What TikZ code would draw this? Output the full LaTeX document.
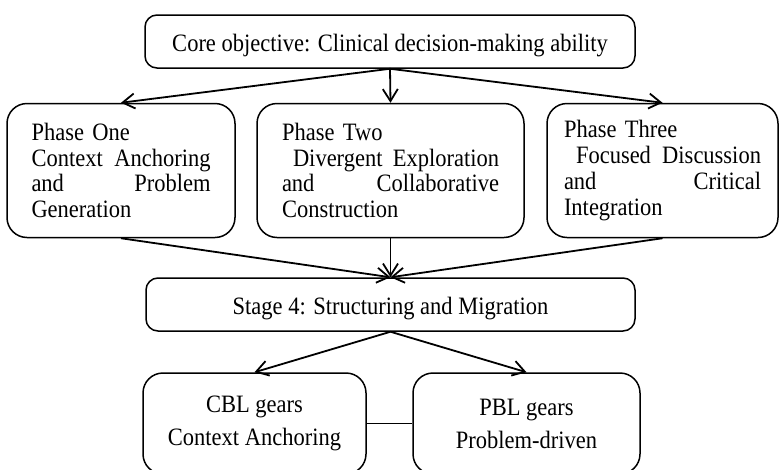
\documentclass[tikz,border=0pt]{standalone}
\usepackage{fontspec}
\setmainfont{Liberation Serif}[FakeStretch=0.9]
\usetikzlibrary{arrows.meta}
\newcommand{\jline}[1]{{\spaceskip=0.25em plus 1fil\makebox[\hsize][s]{#1}}}

\begin{document}
\begin{tikzpicture}[x=1pt,y=-1pt,
    font=\fontsize{25}{25.7}\selectfont,
    box/.style={draw,line width=1.5pt,rounded corners=12pt,minimum height=53pt,text height=20pt,text depth=0pt},
    phase/.style={draw,line width=1.5pt,rounded corners=20pt,minimum height=134pt},
    gear/.style={draw,line width=1.5pt,rounded corners=20pt,minimum height=101pt,align=center,font=\fontsize{25}{33}\selectfont},
    link/.style={line width=1.8pt,-{Straight Barb[length=12pt,width=15pt]}}]
    \useasboundingbox (0,0) rectangle (779,469);

    % Draw core objective
    \node[box,minimum width=490pt] (core) at (390,41.5) {Core objective: Clinical decision-making ability};

    % Draw the three phases
    \node[phase,text width=179pt,inner xsep=24.5pt] (one) at (121,170.5)
        {Phase One\\ \jline{Context Anchoring}\\ \jline{and Problem}\\ Generation};
    \node[phase,text width=217pt,inner xsep=25pt] (two) at (390.5,170.5)
        {Phase Two\\ \jline{\hspace*{11pt}Divergent Exploration}\\ \jline{and Collaborative}\\ Construction};
    \node[phase,text width=197pt,inner xsep=17pt] (three) at (662.5,170.5)
        {Phase Three\\ \jline{\hspace*{12pt}Focused Discussion}\\ \jline{and Critical}\\ Integration};

    % Draw stage 4
    \node[box,minimum width=489pt] (stage) at (390.5,304.5) {Stage 4: Structuring and Migration};

    % Draw the two gears
    \node[gear,minimum width=223pt] (cbl) at (254.5,423.5) {CBL gears\\ Context Anchoring};
    \node[gear,minimum width=227pt] (pbl) at (526.5,423.5) {PBL gears\\ Problem-driven};

    % Arrows between the levels
    \foreach \p in {one,two,three}
        \draw[link] (core.south) -- (\p.north);
    \foreach \p in {one,two,three}
        \draw[link] (\p.south) -- (stage.north);
    \draw[link] (stage.south) -- (cbl.north);
    \draw[link] (stage.south) -- (pbl.north);
    \draw[line width=1.5pt] (cbl.east) -- (pbl.west);
\end{tikzpicture}
\end{document}
